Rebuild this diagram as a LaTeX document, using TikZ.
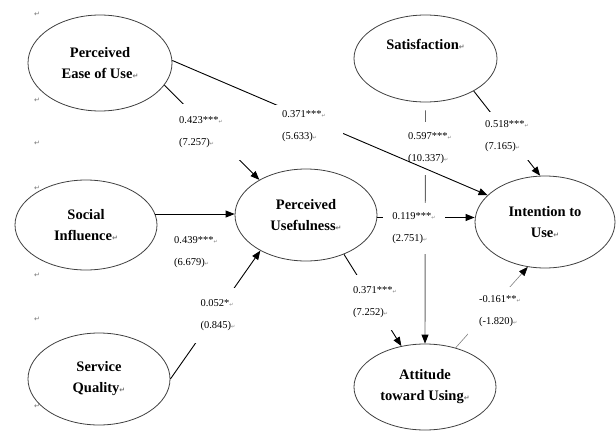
\documentclass[tikz,border=0pt]{standalone}
\usepackage{fontspec}
\setmainfont{Liberation Serif}
\newfontfamily\markfont{DejaVu Sans}
\usetikzlibrary{arrows.meta,shapes.geometric}
\newcommand{\pmark}{{\markfont\fontsize{7}{7}\selectfont\color{black!55}↵}}
\newcommand{\lmark}{{\markfont\fontsize{5}{5}\selectfont\color{black!50}↵}}
\begin{document}
\begin{tikzpicture}[x=1pt,y=-1pt,
  latent/.style={ellipse, draw=black!75, line width=0.8pt, fill=white, align=center,
    font=\bfseries\fontsize{14.5}{21}\selectfont, inner sep=0pt},
  conn/.style={draw=black, line width=0.9pt, -{Triangle[length=9pt,width=7pt,color=black]}},
  pathlbl/.style={fill=white, align=left, font=\fontsize{10.5}{22}\selectfont, inner sep=0pt},
  marknode/.style={inner sep=0pt},
]
\useasboundingbox (0,0) rectangle (616,431);

% margin paragraph marks
\node[marknode] (m1) at (37,14) {\pmark};
\node[marknode] (m2) at (37,100) {\pmark};
\node[marknode] (m3) at (37,143) {\pmark};
\node[marknode] (m4) at (37,188) {\pmark};
\node[marknode] (m5) at (37,275) {\pmark};
\node[marknode] (m6) at (37,319) {\pmark};
\node[marknode] (m7) at (37,406) {\pmark};

% latent variables
\node[latent, minimum width=144pt, minimum height=96pt] (peou) at (100,63) {Perceived\\Ease of Use\pmark};
\node[latent, minimum width=142pt, minimum height=90pt] (si) at (86,225) {Social\\Influence\pmark};
\node[latent, minimum width=142pt, minimum height=92pt] (sq) at (99,379) {Service\\Quality\pmark};
\node[latent, minimum width=142pt, minimum height=92pt] (pu) at (306,215) {Perceived\\Usefulness\pmark};
\node[latent, minimum width=143pt, minimum height=87pt] (sat) at (425.5,58.5) {Satisfaction\pmark\\\strut};
\node[latent, minimum width=140pt, minimum height=92pt] (iu) at (545,222) {Intention to\\Use\pmark};
\node[latent, minimum width=142pt, minimum height=86pt] (att) at (425,387) {Attitude\\toward Using\pmark};

% connectors
\draw[conn] (peou.-19) -- (pu.143);
\draw[conn] (si.9) -- (si.9 -| pu.west);
\draw[conn] (sq.east) -- (pu.218);
\draw[conn] (pu.-2) -- (pu.-2 -| iu.west);
\draw[conn] (pu.-46) -- (att.120);
\draw[conn, draw=black!50, line width=0.6pt] (att.52) -- (iu.249);
\draw[conn, draw=black!60, shorten <=8pt] (sat.south) -- (att.north);
\draw[conn] (sat.-34) -- (iu.96);

% path labels (white boxes)
\node[pathlbl, minimum width=80pt, minimum height=56pt] (l1) at (201,132) {0.423***\lmark\\(7.257)\lmark};
\node[pathlbl, minimum width=50pt, minimum height=53pt] (l3) at (430,148.5) {0.597***\lmark\\(10.337)\lmark};
\node[pathlbl, minimum width=48pt, minimum height=48pt] (l4) at (507,136) {0.518***\lmark\\(7.165)\lmark};
\node[pathlbl] (l5) at (196,252) {0.439***\lmark\\(6.679)\lmark};
\node[pathlbl, minimum width=52pt, minimum height=55pt] (l6) at (218,315.5) {0.052*\lmark\\(0.845)\lmark};
\node[pathlbl, minimum width=62pt, minimum height=51pt] (l7) at (414,228) {0.119***\lmark\\(2.751)\lmark};
\node[pathlbl, minimum width=46pt, minimum height=55pt] (l8) at (375,302.5) {0.371***\lmark\\(7.252)\lmark};
\node[pathlbl, minimum width=64pt, minimum height=48pt] (l9) at (500,311) {-0.161**\lmark\\(-1.820)\lmark};

% PEOU -> IU drawn over the 0.597 box
\draw[conn] (peou.2) -- (iu.155);
\node[pathlbl, minimum width=78pt, minimum height=42pt] (l2) at (304,126) {0.371***\lmark\\(5.633)\lmark};
\end{tikzpicture}
\end{document}
